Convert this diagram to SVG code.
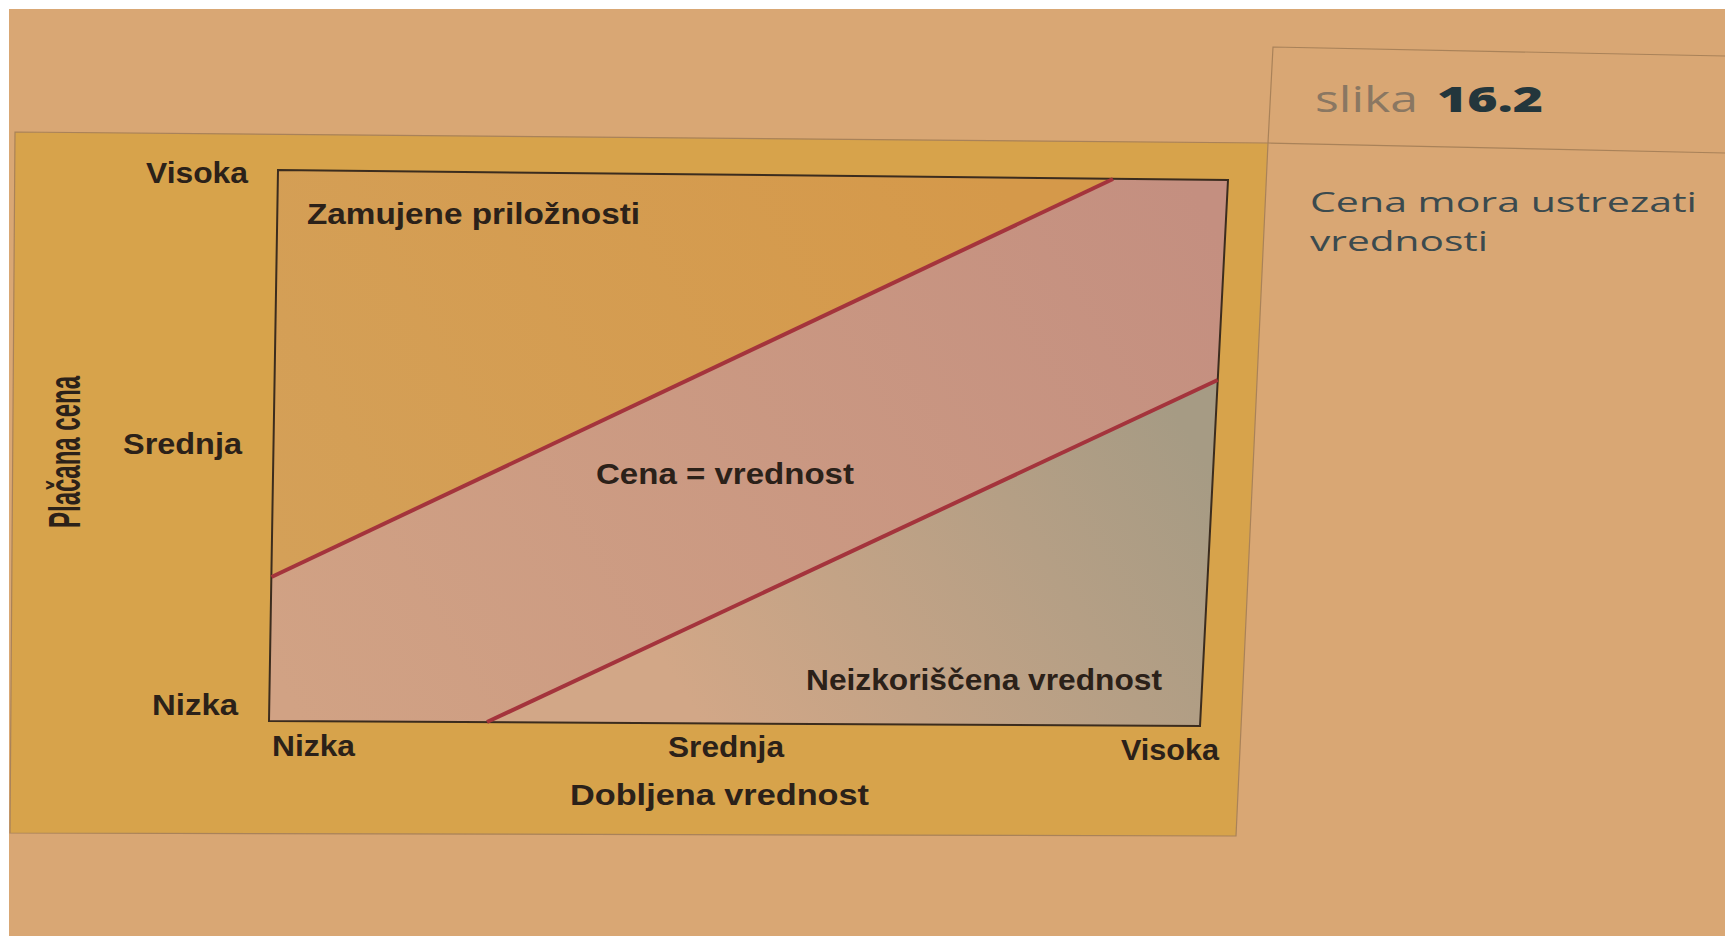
<svg xmlns="http://www.w3.org/2000/svg" width="1725" height="943" viewBox="0 0 1725 943">
  <style>
    .lbl { font-family: "Liberation Sans", "DejaVu Sans", sans-serif; font-weight: bold; font-size: 30px; fill: #2b2119; }
    .cap { font-family: "Open Sans", "Liberation Sans", sans-serif; font-size: 28px; fill: #3b4a4e; }
    .rule { fill: none; stroke: #a98259; stroke-width: 1.2; }
    .divide { fill: none; stroke: #a4343c; stroke-width: 4; stroke-linecap: butt; }
  </style>
  <defs>
    <linearGradient id="gMid" gradientUnits="userSpaceOnUse" x1="300" y1="720" x2="1200" y2="200">
      <stop offset="0" stop-color="#d1a284"/>
      <stop offset="1" stop-color="#c48f80"/>
    </linearGradient>
    <linearGradient id="gLow" gradientUnits="userSpaceOnUse" x1="700" y1="720" x2="1180" y2="420">
      <stop offset="0" stop-color="#d2a787"/>
      <stop offset="1" stop-color="#a69b84"/>
    </linearGradient>
    <linearGradient id="gTop" gradientUnits="userSpaceOnUse" x1="280" y1="560" x2="1000" y2="180">
      <stop offset="0" stop-color="#d4a058"/>
      <stop offset="1" stop-color="#d5994a"/>
    </linearGradient>
  </defs>

  <!-- page background -->
  <rect x="0" y="0" width="1725" height="943" fill="#d9a774"/>
  <rect x="0" y="0" width="1725" height="9" fill="#ffffff"/>
  <rect x="0" y="0" width="9" height="943" fill="#ffffff"/>
  <rect x="0" y="936" width="1725" height="7" fill="#ffffff"/>

  <!-- caption box -->
  <g id="caption">
    <polyline class="rule" points="1725,56 1273,47 1268,143 1725,153"/>
    <text x="1315" y="112" style="font-family:'Open Sans','Liberation Sans',sans-serif;font-size:36px;fill:#8a7762" textLength="103" lengthAdjust="spacingAndGlyphs">slika</text>
    <text x="1437" y="112" style="font-family:'Open Sans','Liberation Sans',sans-serif;font-size:36px;font-weight:800;fill:#23363c" textLength="106" lengthAdjust="spacingAndGlyphs">16.2</text>
    <text class="cap" x="1310" y="212" textLength="387" lengthAdjust="spacingAndGlyphs">Cena mora ustrezati</text>
    <text class="cap" x="1310" y="251" textLength="178" lengthAdjust="spacingAndGlyphs">vrednosti</text>
  </g>

  <!-- yellow panel -->
  <g id="panel">
    <polygon points="15,132 1268,143 1236,836 10,833" fill="#d7a34b" stroke="#a98259" stroke-width="1.2"/>
  </g>

  <!-- chart -->
  <g id="chart">
    <polygon id="band-middle" points="278,170 1228,180 1200,726 269,721" fill="url(#gMid)"/>
    <polygon id="region-top" points="278,170 1113,179 271.5,577" fill="url(#gTop)"/>
    <polygon id="region-bottom" points="487,722.2 1217.7,380 1200,726" fill="url(#gLow)"/>
    <polygon points="278,170 1228,180 1200,726 269,721" fill="none" stroke="#3b2c1e" stroke-width="2"/>
  </g>

  <g id="connectors">
    <line class="divide" x1="271.5" y1="577" x2="1113" y2="179"/>
    <line class="divide" x1="487" y1="722" x2="1217.7" y2="380"/>
  </g>

  <!-- labels -->
  <g id="labels">
    <text class="lbl" x="307" y="224" textLength="333" lengthAdjust="spacingAndGlyphs">Zamujene priložnosti</text>
    <text class="lbl" x="596" y="484" textLength="258" lengthAdjust="spacingAndGlyphs">Cena = vrednost</text>
    <text class="lbl" x="806" y="690" textLength="356" lengthAdjust="spacingAndGlyphs">Neizkoriščena vrednost</text>

    <text class="lbl" x="146" y="183" textLength="102" lengthAdjust="spacingAndGlyphs">Visoka</text>
    <text class="lbl" x="123" y="454" textLength="119" lengthAdjust="spacingAndGlyphs">Srednja</text>
    <text class="lbl" x="152" y="715" textLength="86" lengthAdjust="spacingAndGlyphs">Nizka</text>

    <text class="lbl" x="272" y="756" textLength="83" lengthAdjust="spacingAndGlyphs">Nizka</text>
    <text class="lbl" x="668" y="757" textLength="116" lengthAdjust="spacingAndGlyphs">Srednja</text>
    <text class="lbl" x="1121" y="760" textLength="98" lengthAdjust="spacingAndGlyphs">Visoka</text>

    <text class="lbl" x="570" y="805" textLength="299" lengthAdjust="spacingAndGlyphs">Dobljena vrednost</text>
    <text class="lbl" transform="translate(80,528) scale(1.3,1) rotate(-90)" x="0" y="0" style="font-size:34px" textLength="152" lengthAdjust="spacingAndGlyphs">Plačana cena</text>
  </g>
</svg>
